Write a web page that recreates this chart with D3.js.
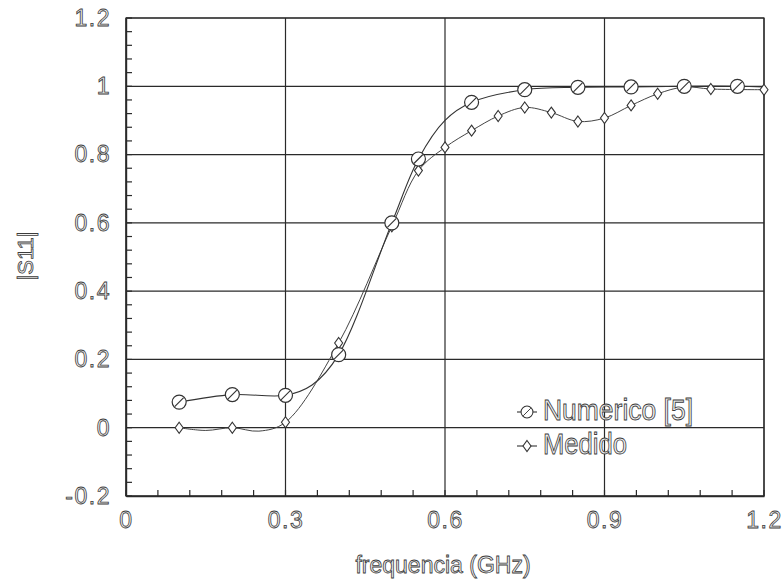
<!DOCTYPE html>
<html>
<head>
<meta charset="utf-8">
<script src="https://cdn.jsdelivr.net/npm/d3@7"></script>
<style>
  body { margin: 0; background: #fff; }
  svg { display: block; }
  text { font-family: "Liberation Sans", Arial, sans-serif; opacity: 0.99; }
</style>
</head>
<body>
<svg id="chart" width="784" height="583"></svg>
<script>
// Data
let numFreq = [0.1, 0.2, 0.3, 0.35, 0.4, 0.5, 0.55, 0.6, 0.65, 0.75, 0.85, 0.95, 1.05, 1.15, 1.2]
let numS11  = [0.075, 0.097, 0.095, 0.125, 0.214, 0.6, 0.787, 0.9, 0.953, 0.99, 0.997, 0.998, 1.0, 1.0, 0.998]
let numMark = [1, 1, 1, 0, 1, 1, 1, 0, 1, 1, 1, 1, 1, 1, 0]

let medFreq = [0.1, 0.15, 0.2, 0.25, 0.3, 0.4, 0.5, 0.55, 0.6, 0.65, 0.7, 0.75, 0.8, 0.85, 0.9, 0.95, 1.0, 1.05, 1.1, 1.2]
let medS11  = [0.0, -0.008, 0.0, -0.01, 0.016, 0.248, 0.59, 0.753, 0.821, 0.87, 0.913, 0.938, 0.923, 0.897, 0.907, 0.944, 0.978, 0.998, 0.992, 0.99]
let medMark = [1, 0, 1, 0, 1, 1, 1, 1, 1, 1, 1, 1, 1, 1, 1, 1, 1, 1, 1, 1]

let xTicks = [0, 0.3, 0.6, 0.9, 1.2]
let yTicks = [-0.2, 0, 0.2, 0.4, 0.6, 0.8, 1, 1.2]
let legendLabels = ["Numerico [5]", "Medido"]

// Layout
let margin = {left: 126, top: 18, right: 20, bottom: 87}
let W = 784, H = 583
let w = W - margin.left - margin.right
let h = H - margin.top - margin.bottom
let ink = "#2a2a2a"

let svg = d3.select("#chart")
let g = svg.append("g").attr("transform", `translate(${margin.left},${margin.top})`)

let x = d3.scaleLinear().domain([0, 1.2]).range([0, w])
let y = d3.scaleLinear().domain([-0.2, 1.2]).range([h, 0])

let fmt = d => String(+d.toFixed(1))

// grid
g.selectAll(".gx").data(xTicks).join("line")
  .attr("x1", d => x(d)).attr("x2", d => x(d))
  .attr("y1", 0).attr("y2", h)
  .attr("stroke", ink).attr("stroke-width", 1.2)
g.selectAll(".gy").data(yTicks).join("line")
  .attr("x1", 0).attr("x2", w)
  .attr("y1", d => y(d)).attr("y2", d => y(d))
  .attr("stroke", ink).attr("stroke-width", 1.2)

// minor ticks (inward)
let xMinor = d3.range(0, 1.2001, 0.06)
let yMinor = d3.range(-0.2, 1.2001, 0.04)
g.selectAll(".mx").data(xMinor).join("line")
  .attr("x1", d => x(d)).attr("x2", d => x(d))
  .attr("y1", h).attr("y2", h - 6)
  .attr("stroke", ink).attr("stroke-width", 1.2)
g.selectAll(".my").data(yMinor).join("line")
  .attr("x1", 0).attr("x2", 6)
  .attr("y1", d => y(d)).attr("y2", d => y(d))
  .attr("stroke", ink).attr("stroke-width", 1.2)

// axes labels (hollow, scanned look)
let labelStyle = sel => sel
  .attr("fill", "#f2f2f2").attr("stroke", "#3a3a3a").attr("stroke-width", 0.8)
  .style("font-size", "23px").style("letter-spacing", "1.5px")

let xAxis = g.append("g").attr("transform", `translate(0,${h})`)
  .call(d3.axisBottom(x).tickValues(xTicks).tickFormat(fmt).tickSize(0).tickPadding(16))
xAxis.select(".domain").attr("stroke", ink).attr("stroke-width", 1.4)
xAxis.selectAll("text").call(labelStyle)

let yAxis = g.append("g")
  .call(d3.axisLeft(y).tickValues(yTicks).tickFormat(fmt).tickSize(0).tickPadding(15))
yAxis.select(".domain").attr("stroke", ink).attr("stroke-width", 1.4)
yAxis.selectAll("text").call(labelStyle)

// frame
g.append("rect").attr("width", w).attr("height", h)
  .attr("fill", "none").attr("stroke", ink).attr("stroke-width", 1.2)

// titles
svg.append("text")
  .attr("x", margin.left + x(0.6) - 2).attr("y", 573)
  .attr("text-anchor", "middle")
  .attr("fill", "#f2f2f2").attr("stroke", "#3a3a3a").attr("stroke-width", 0.8)
  .style("font-size", "23px")
  .text("frequencia (GHz)")
svg.append("text")
  .attr("transform", "translate(33,256) rotate(-90)")
  .attr("text-anchor", "middle")
  .attr("fill", "#f2f2f2").attr("stroke", "#3a3a3a").attr("stroke-width", 0.8)
  .style("font-size", "22px")
  .text("|S11|")

// lines
let line = d3.line()
  .x(d => x(d[0])).y(d => y(d[1]))
  .curve(d3.curveCatmullRom.alpha(0.5))

let numPts = numFreq.map((f, i) => [f, numS11[i], numMark[i]])
let medPts = medFreq.map((f, i) => [f, medS11[i], medMark[i]])

g.append("path").attr("d", line(medPts))
  .attr("fill", "none").attr("stroke", "#444").attr("stroke-width", 1)
g.append("path").attr("d", line(numPts))
  .attr("fill", "none").attr("stroke", "#333").attr("stroke-width", 1.1)

// markers
let drawCircle = (sel) => {
  sel.append("circle").attr("r", 7)
    .attr("fill", "#fff").attr("stroke", "#333").attr("stroke-width", 1.2)
  sel.append("line").attr("x1", -4.5).attr("y1", 4.5).attr("x2", 4.5).attr("y2", -4.5)
    .attr("stroke", "#333").attr("stroke-width", 1.1)
}
let drawDiamond = (sel) => {
  sel.append("path").attr("d", "M0,-5.5L4,0L0,5.5L-4,0Z")
    .attr("fill", "#fff").attr("stroke", "#333").attr("stroke-width", 1.1)
}

g.selectAll(".med").data(medPts.filter(d => d[2])).join("g")
  .attr("transform", d => `translate(${x(d[0])},${y(d[1])})`)
  .call(drawDiamond)
g.selectAll(".num").data(numPts.filter(d => d[2])).join("g")
  .attr("transform", d => `translate(${x(d[0])},${y(d[1])})`)
  .call(drawCircle)

// legend
let lg = svg.append("g").attr("transform", "translate(527,412)")
let rows = lg.selectAll("g").data(legendLabels).join("g")
  .attr("transform", (d, i) => `translate(0,${i * 34})`)
rows.append("line").attr("x1", -10).attr("x2", 10)
  .attr("stroke", "#333").attr("stroke-width", 1.1)
rows.each(function(d, i) {
  let s = d3.select(this)
  if (i === 0) drawCircle(s.append("g").attr("transform", "scale(0.85)"))
  else drawDiamond(s.append("g"))
})
rows.append("text")
  .attr("x", 16).attr("y", 8)
  .attr("textLength", (d, i) => i === 0 ? 150 : 84)
  .attr("lengthAdjust", "spacingAndGlyphs")
  .attr("fill", "#f2f2f2").attr("stroke", "#3a3a3a").attr("stroke-width", 0.9)
  .style("font-size", "30px")
  .text(d => d)
</script>
</body>
</html>
